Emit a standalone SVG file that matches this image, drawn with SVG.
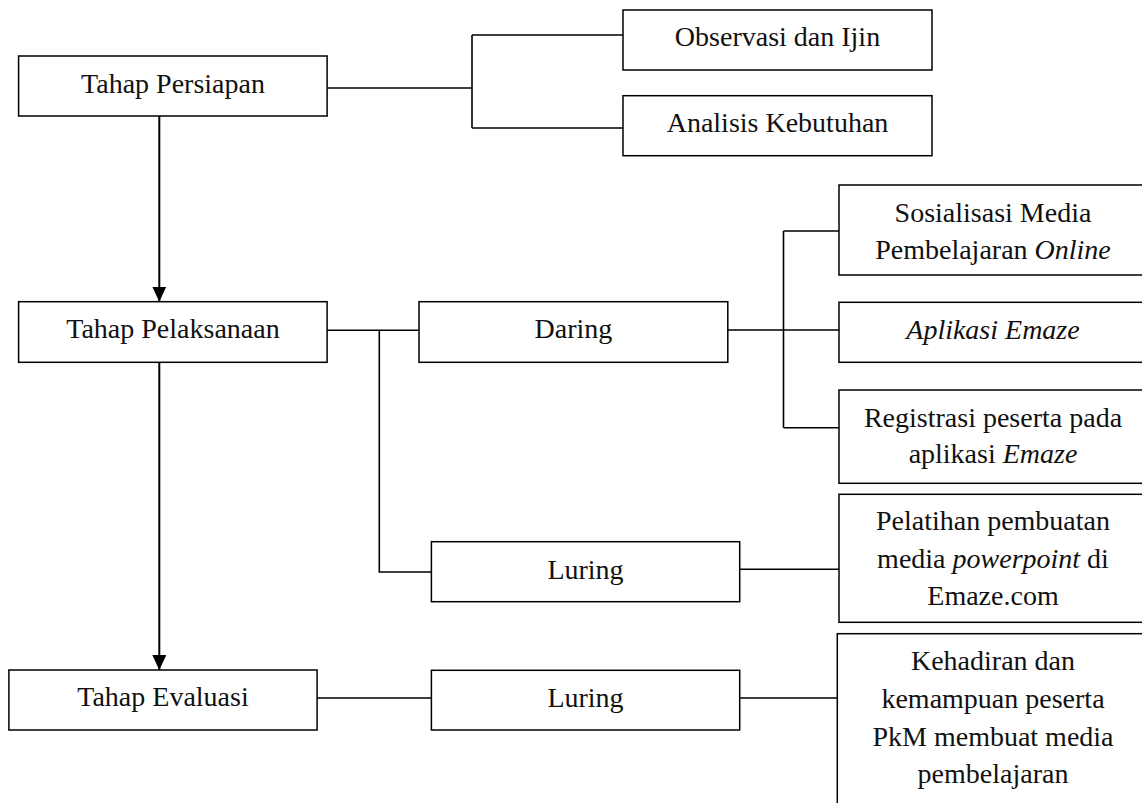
<svg xmlns="http://www.w3.org/2000/svg" width="1142" height="803" viewBox="0 0 1142 803">
<style>
.box{fill:#fff;stroke:#000;stroke-width:1.5}
.t{font-family:"Liberation Serif","Times New Roman",serif;font-size:28px;fill:#111;text-anchor:middle}
.i{font-style:italic}
.c{fill:none;stroke:#000;stroke-width:1.6}
.a{fill:none;stroke:#000;stroke-width:2}
</style>
<defs>
<marker id="arr" viewBox="0 0 15 14" refX="15" refY="7" markerWidth="15" markerHeight="14" markerUnits="userSpaceOnUse" orient="auto">
<path d="M0,0 L15,7 L0,14 Z" fill="#000"/>
</marker>
</defs>
<rect width="1142" height="803" fill="#fff"/>
<g id="connectors">
<path class="c" d="M327,88 H472 M472,35 V128 M472,35 H623 M472,128 H623"/>
<path class="c" d="M327,330.3 H419 M379.3,330.3 V572 H431.4"/>
<path class="c" d="M727.8,330 H839 M783.5,231 V427.7 M783.5,231 H839 M783.5,427.7 H839"/>
<path class="c" d="M739.7,569.3 H839"/>
<path class="c" d="M317,698 H431.4 M739.7,698 H837.3"/>
<line class="a" x1="159.3" y1="116" x2="159.3" y2="301.7" marker-end="url(#arr)"/>
<line class="a" x1="159.3" y1="362.3" x2="159.3" y2="670" marker-end="url(#arr)"/>
</g>
<g id="persiapan"><rect class="box" x="18.6" y="56" width="308.5" height="60"/><text class="t" x="173" y="92.5">Tahap Persiapan</text></g>
<g id="observasi"><rect class="box" x="623" y="10" width="309" height="60"/><text class="t" x="777.5" y="46">Observasi dan Ijin</text></g>
<g id="analisis"><rect class="box" x="623" y="95.7" width="309" height="60"/><text class="t" x="777.5" y="131.5">Analisis Kebutuhan</text></g>
<g id="pelaksanaan"><rect class="box" x="18.6" y="301.7" width="308.5" height="60.6"/><text class="t" x="173" y="338">Tahap Pelaksanaan</text></g>
<g id="daring"><rect class="box" x="419" y="301.7" width="308.8" height="60.6"/><text class="t" x="573.4" y="338">Daring</text></g>
<g id="sosialisasi"><rect class="box" x="839" y="185" width="320" height="90"/><text class="t" x="993" y="221.7">Sosialisasi Media</text><text class="t" x="993" y="259.3">Pembelajaran <tspan class="i">Online</tspan></text></g>
<g id="aplikasi"><rect class="box" x="839" y="302.3" width="320" height="60"/><text class="t i" x="993" y="338.5">Aplikasi Emaze</text></g>
<g id="registrasi"><rect class="box" x="839" y="390" width="320" height="93.3"/><text class="t" x="993" y="426.7">Registrasi peserta pada</text><text class="t" x="993" y="463.3">aplikasi <tspan class="i">Emaze</tspan></text></g>
<g id="luring1"><rect class="box" x="431.4" y="541.7" width="308.3" height="60"/><text class="t" x="585.5" y="578.5">Luring</text></g>
<g id="pelatihan"><rect class="box" x="839" y="494.3" width="320" height="128"/><text class="t" x="993" y="530">Pelatihan pembuatan</text><text class="t" x="993" y="568.3">media <tspan class="i">powerpoint</tspan> di</text><text class="t" x="993" y="605">Emaze.com</text></g>
<g id="evaluasi"><rect class="box" x="8.9" y="670" width="308.2" height="60"/><text class="t" x="163" y="706">Tahap Evaluasi</text></g>
<g id="luring2"><rect class="box" x="431.4" y="670.3" width="308.3" height="59.7"/><text class="t" x="585.5" y="706.7">Luring</text></g>
<g id="kehadiran"><rect class="box" x="837.3" y="633.7" width="320" height="190"/><text class="t" x="993" y="670">Kehadiran dan</text><text class="t" x="993" y="708.3">kemampuan peserta</text><text class="t" x="993" y="746">PkM membuat media</text><text class="t" x="993" y="783.3">pembelajaran</text></g>
</svg>
